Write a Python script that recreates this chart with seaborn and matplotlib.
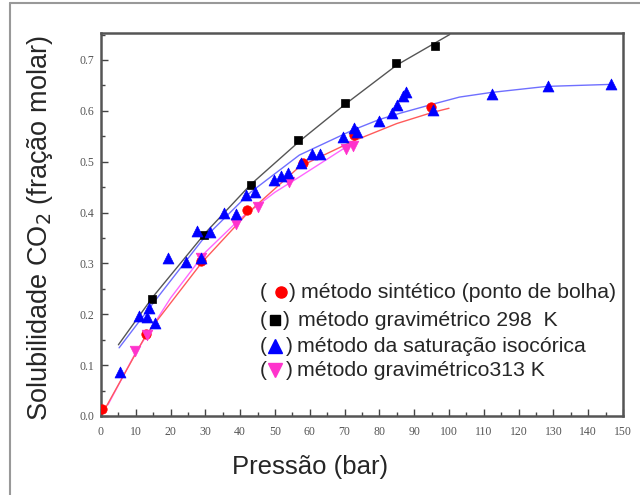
import numpy as np
import pandas as pd
import seaborn as sns
import matplotlib
matplotlib.use("Agg")
import matplotlib.pyplot as plt
from matplotlib.lines import Line2D
from matplotlib.ticker import MultipleLocator

# ---------------- data ----------------
# método sintético (ponto de bolha) - red circles
circ_p = [0.3, 13.0, 28.8, 42.0, 58.0, 72.6, 94.7]
circ_s = [0.014, 0.162, 0.305, 0.405, 0.497, 0.552, 0.607]
# método gravimétrico 298 K - black squares
sq_p = [14.7, 29.7, 43.2, 56.7, 70.0, 84.7, 95.9]
sq_s = [0.230, 0.356, 0.454, 0.542, 0.615, 0.695, 0.727]
# método da saturação isocórica - blue up triangles
up_p = [5.5, 11.0, 13.3, 13.8, 15.5, 19.3, 24.4, 27.6, 28.6, 31.2, 35.4,
        38.9, 41.8, 44.3, 49.8, 51.8, 53.7, 57.5, 60.7, 62.8, 69.4, 72.8,
        73.5, 80.0, 83.5, 85.0, 86.7, 87.5, 95.3, 112.3, 128.4, 146.6]
up_s = [0.087, 0.197, 0.195, 0.212, 0.183, 0.310, 0.302, 0.364, 0.311, 0.362, 0.400,
        0.398, 0.434, 0.440, 0.464, 0.471, 0.477, 0.497, 0.516, 0.516, 0.548, 0.566,
        0.558, 0.580, 0.595, 0.611, 0.630, 0.637, 0.601, 0.633, 0.648, 0.652]
# método gravimétrico 313 K - magenta down triangles
down_p = [9.8, 13.2, 28.6, 38.9, 45.0, 54.0, 70.5, 72.5]
down_s = [0.128, 0.160, 0.310, 0.378, 0.410, 0.460, 0.525, 0.530]

# fitted curves as drawn in the reference
blk_cp = [5, 15, 30, 43, 57, 70, 85, 100.2]
blk_cs = [0.140, 0.235, 0.360, 0.455, 0.540, 0.612, 0.690, 0.750]
blu_cp = [5.2, 15, 29, 43, 57, 72.3, 80, 85.8, 95.3, 103, 112, 128, 146.6]
blu_cs = [0.134, 0.222, 0.345, 0.440, 0.513, 0.562, 0.583, 0.595, 0.613, 0.627, 0.636, 0.648, 0.652]
red_cp = [0, 13, 29, 42, 57, 72.3, 85, 95.3, 100]
red_cs = [0.0, 0.160, 0.302, 0.398, 0.490, 0.540, 0.575, 0.597, 0.605]
mag_cp = [2, 10, 20, 30, 40, 50, 57, 65, 72.5]
mag_cs = [0.022, 0.125, 0.232, 0.322, 0.388, 0.440, 0.470, 0.505, 0.538]

labels = ["método sintético (ponto de bolha)", "método gravimétrico 298  K",
          "método da saturação isocórica", "método gravimétrico313 K"]

x_ticks = list(range(0, 151, 10))
y_ticks = [0.0, 0.1, 0.2, 0.3, 0.4, 0.5, 0.6, 0.7]

# ---------------- style ----------------
sns.set_style("ticks")
plt.rcParams["font.family"] = ["Liberation Sans", "DejaVu Sans"]

W, H = 640, 495
fig = plt.figure(figsize=(W / 100, H / 100), dpi=100)
ax = fig.add_axes([101 / W, 1 - 416 / H, (623 - 101) / W, (416 - 33) / H])

RED = "#ff0000"
BLK = "#000000"
BLU = "#0000ff"
MAG = "#ff33cc"

# curves
def curve(xs, ys, color):
    d = pd.DataFrame({"p": xs, "s": ys})
    sns.lineplot(data=d, x="p", y="s", ax=ax, color=color, lw=1.0, sort=False,
                 estimator=None, zorder=2)

curve(blk_cp, blk_cs, "#555555")
curve(blu_cp, blu_cs, "#6f6fff")
curve(mag_cp, mag_cs, "#ff66ff")
curve(red_cp, red_cs, "#ff5a5a")

# points
def pts(xs, ys, marker, color, size):
    d = pd.DataFrame({"p": xs, "s": ys})
    sns.scatterplot(data=d, x="p", y="s", ax=ax, marker=marker, color=color,
                    s=size, edgecolor=color, linewidth=0.5, zorder=3)

pts(sq_p, sq_s, "s", BLK, 34)
pts(circ_p, circ_s, "o", RED, 46)
pts(down_p, down_s, "v", MAG, 58)
pts(up_p, up_s, "^", BLU, 62)

ax.set_xlim(0, 150)
ax.set_ylim(0, 0.753)
ax.set_xticks(x_ticks)
ax.set_yticks(y_ticks)
ax.xaxis.set_minor_locator(MultipleLocator(5))
ax.yaxis.set_minor_locator(MultipleLocator(0.05))
ax.set_xticklabels([str(v) for v in x_ticks])
ax.set_yticklabels([f"{v:.1f}" for v in y_ticks])

for sp in ax.spines.values():
    sp.set_visible(True)
    sp.set_color("#555555")
    sp.set_linewidth(1.8)
ax.tick_params(which="both", direction="in", top=False, right=False,
               color="#444444", width=1.0, labelcolor="#555555")
ax.tick_params(which="major", length=5)
ax.tick_params(which="minor", length=3)
ax.tick_params(axis="x", which="major", pad=7)
ax.tick_params(axis="y", which="major", pad=5)
for t in ax.get_xticklabels() + ax.get_yticklabels():
    t.set_family("Liberation Serif")
    t.set_fontsize(8.5)

ax.set_xlabel("")
ax.set_ylabel("")
fig.text(310 / W, 1 - 467 / H, "Pressão (bar)", ha="center", va="center", fontsize=18.5)
fig.text(40 / W, 1 - 228 / H, "Solubilidade CO$_2$ (fração molar)", ha="center",
         va="center", rotation=90, fontsize=19.5)

# legend (parentheses around markers, as in the reference)
rows_y = [292, 320, 346, 370]
mk = [("o", RED, 8, 281), ("s", BLK, 7, 275), ("^", BLU, 10, 275), ("v", MAG, 10, 275)]
close_x = [292, 286, 289, 289]
text_x = [301, 298, 297, 297]
for i, (yy, lab) in enumerate(zip(rows_y, labels)):
    fy = 1 - yy / H
    fig.text(263 / W, fy, "(", ha="center", va="center", fontsize=15)
    m, c, ms, mx = mk[i]
    fig.add_artist(Line2D([mx / W], [fy], marker=m, color=c, markersize=ms,
                          linestyle="none", transform=fig.transFigure))
    fig.text(close_x[i] / W, fy, ")", ha="center", va="center", fontsize=15)
    fig.text(text_x[i] / W, fy, lab, ha="left", va="center", fontsize=15.3)

# outer frame (left and top only visible)
fig.add_artist(Line2D([10 / W, 10 / W], [0, 1 - 3 / H], color="#999999", lw=1.5,
                      transform=fig.transFigure))
fig.add_artist(Line2D([10 / W, 1], [1 - 3 / H, 1 - 3 / H], color="#999999", lw=1.5,
                      transform=fig.transFigure))

fig.savefig("out.png", dpi=100)
